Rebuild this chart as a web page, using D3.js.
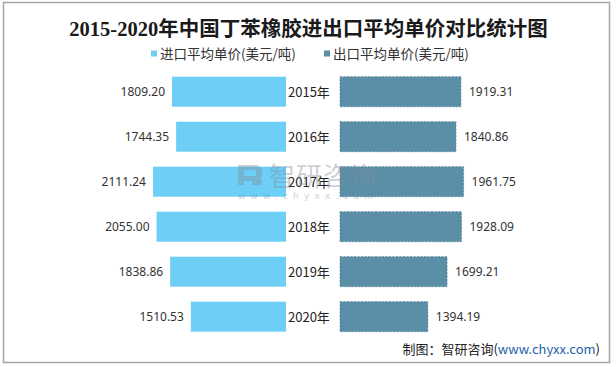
<!DOCTYPE html>
<html><head><meta charset="utf-8">
<script src="https://cdn.jsdelivr.net/npm/d3@7"></script>
<style>html,body{margin:0;padding:0;background:#fff;}svg{display:block;}</style>
</head><body>
<script>
const years = ["2015年","2016年","2017年","2018年","2019年","2020年"];
const importPrice = [1809.20, 1744.35, 2111.24, 2055.00, 1838.86, 1510.53];
const exportPrice = [1919.31, 1840.86, 1961.75, 1928.09, 1699.21, 1394.19];
const seriesNames = ["进口平均单价(美元/吨)", "出口平均单价(美元/吨)"];
const colors = ["#6dcff6", "#5b8fa8"];
const titleText = "2015-2020年中国丁苯橡胶进出口平均单价对比统计图";

const W = 616, H = 367;
const svg = d3.select("body").append("svg").attr("width", W).attr("height", H);
svg.append("rect").attr("x",0).attr("y",0).attr("width",W).attr("height",H).attr("fill","#fff");
svg.append("rect").attr("x",3.5).attr("y",2.5).attr("width",606).attr("height",360)
  .attr("fill","none").attr("stroke","#a6a6a6").attr("stroke-width",1.5);

svg.append("text").attr("x",308.5).attr("y",36).attr("text-anchor","middle")
  .attr("font-family","'Liberation Serif','Noto Sans CJK SC',serif").attr("font-weight","bold")
  .attr("font-size",20.5).attr("fill","#1a1a1a").text(titleText);

// legend
const legX = [151, 324];
seriesNames.forEach((n,i)=>{
  svg.append("rect").attr("x",legX[i]).attr("y",50.5).attr("width",6).attr("height",6).attr("fill",colors[i]);
  svg.append("text").attr("x",legX[i]+9).attr("y",58.5).attr("font-family","'Noto Sans CJK SC',sans-serif")
    .attr("font-size",13.5).attr("fill","#333").text(n);
});

const y = d3.scaleBand().domain(years).range([69.2, 339.2]).paddingInner(0.333).paddingOuter(0.167);
const maxV = 2200;
const xL = d3.scaleLinear().domain([0, maxV]).range([286, 286 - maxV*0.063]);
const xR = d3.scaleLinear().domain([0, maxV]).range([340, 340 + maxV*0.063]);

const g = svg.append("g");
g.selectAll(".bl").data(years).join("rect").attr("class","bl")
  .attr("x",(d,i)=>xL(importPrice[i])).attr("y",d=>y(d))
  .attr("width",(d,i)=>xL(0)-xL(importPrice[i])).attr("height",y.bandwidth()).attr("fill",colors[0]);
g.selectAll(".br").data(years).join("rect").attr("class","br")
  .attr("x",xR(0)).attr("y",d=>y(d))
  .attr("width",(d,i)=>xR(exportPrice[i])-xR(0)).attr("height",y.bandwidth()).attr("fill",colors[1])
  .attr("stroke","#4a7990").attr("stroke-width",0.7).attr("stroke-dasharray","2,1.5");

g.selectAll(".vl").data(years).join("text").attr("class","vl")
  .attr("x",(d,i)=>xL(importPrice[i])-7).attr("y",d=>y(d)+y.bandwidth()/2+4.5)
  .attr("text-anchor","end").attr("font-family","'Noto Sans',sans-serif").attr("font-size",12).attr("fill","#333")
  .text((d,i)=>importPrice[i].toFixed(2));
g.selectAll(".vr").data(years).join("text").attr("class","vr")
  .attr("x",(d,i)=>xR(exportPrice[i])+8).attr("y",d=>y(d)+y.bandwidth()/2+4.5)
  .attr("text-anchor","start").attr("font-family","'Noto Sans',sans-serif").attr("font-size",12).attr("fill","#333")
  .text((d,i)=>exportPrice[i].toFixed(2));
g.selectAll(".yl").data(years).join("text").attr("class","yl")
  .attr("x",288).attr("y",d=>y(d)+y.bandwidth()/2+5)
  .attr("font-family","'Noto Sans CJK SC',sans-serif").attr("font-size",13).attr("fill","#222")
  .text(d=>d);

// watermark
const wm = svg.append("g").attr("opacity",0.4).attr("fill","#7f8c99");
wm.append("path").attr("d","M238,165 h18 a6,6 0 0 1 6,6 v4 a6,6 0 0 1 -6,6 h-12 v4 h-6 z M244,170 v6 h12 v-6 z").attr("fill-rule","evenodd");
wm.append("rect").attr("x",252).attr("y",180).attr("width",10).attr("height",5);
wm.append("text").attr("x",269).attr("y",186).attr("font-family","'Noto Sans CJK SC',sans-serif")
  .attr("font-size",26).attr("letter-spacing",1).text("智研咨询");
wm.append("text").attr("x",238).attr("y",199).attr("font-family","'DejaVu Sans',sans-serif")
  .attr("font-size",9).attr("letter-spacing",5.2).text("www.chyxx.com");

// footer
const ft = svg.append("text").attr("x",600).attr("y",354).attr("text-anchor","end")
  .attr("font-family","'Noto Sans CJK SC',sans-serif").attr("font-size",13).attr("fill","#222");
ft.append("tspan").text("制图：智研咨询(");
ft.append("tspan").attr("fill","#1f5fa8").text("www.chyxx.com");
ft.append("tspan").text(")");
</script>
</body></html>
